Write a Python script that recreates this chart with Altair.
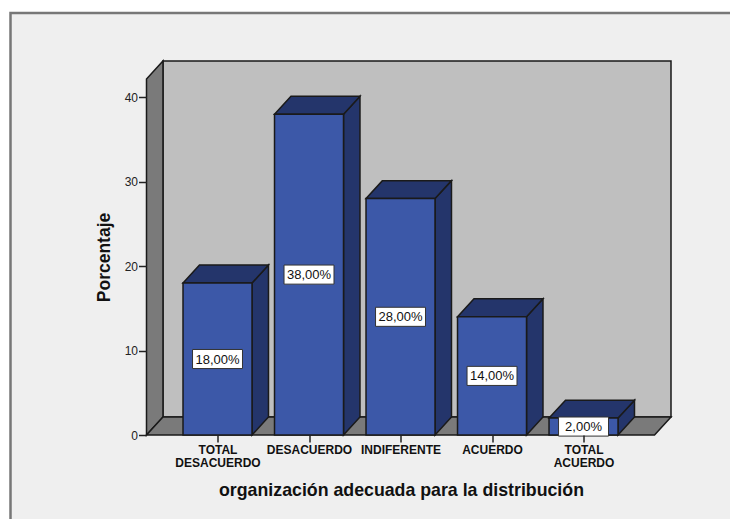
import altair as alt
import pandas as pd

categories = ["TOTAL DESACUERDO", "DESACUERDO", "INDIFERENTE", "ACUERDO", "TOTAL ACUERDO"]
values = [18, 38, 28, 14, 2]
y_ticks = [0, 10, 20, 30, 40]

# Pseudo-3D geometry in data units (category spacing = 1 on x, percent on y)
half = 0.377
dx = 0.18
dy = 2.13
xmin, xmax = -0.776, 4.956
ytop = 44.3
bar_fill, dark_fill = "#3C58A8", "#24356B"
wall = "#7A7A7A"
line = "#1A1A1A"

x_scale = alt.Scale(domain=[xmin, xmax], nice=False, zero=False)
y_scale = alt.Scale(domain=[0, ytop], nice=False, zero=True)
X = alt.X("x:Q", scale=x_scale, axis=None)
Y = alt.Y("y:Q", scale=y_scale, axis=None)

def df(rows):
    return alt.Data(values=rows)

frame = alt.Chart(df([{"a": 1}])).mark_rect(fill="#EFEFEF", stroke="#777777", strokeWidth=2.5).encode(
    x=alt.value(-136), x2=alt.value(640), y=alt.value(-48), y2=alt.value(520))

back = alt.Chart(df([{"x": xmin + dx, "x2": xmax, "y": dy, "y2": ytop}])).mark_rect(
    fill="#BFBFBF", stroke=line, strokeWidth=1.5
).encode(x=X, x2="x2:Q", y=Y, y2="y2:Q")

left_wall = alt.Chart(df([
    {"x": xmin, "y": 0, "y2": ytop - dy},
    {"x": xmin + dx, "y": dy, "y2": ytop},
])).mark_area(fill=wall, stroke=line, strokeWidth=1.5, opacity=1).encode(x=X, y=Y, y2="y2:Q")

floor = alt.Chart(df([
    {"y": 0, "x": xmin, "x2": xmax - dx},
    {"y": dy, "x": xmin + dx, "x2": xmax},
])).mark_area(fill=wall, stroke=line, strokeWidth=1.5, orient="horizontal", opacity=1).encode(
    x=X, x2="x2:Q", y=Y)

layers = [frame, back, left_wall, floor]
for i, v in enumerate(values):
    front = alt.Chart(df([{"x": i - half, "x2": i + half, "y": 0, "y2": v}])).mark_rect(
        fill=bar_fill, stroke=line, strokeWidth=1.5
    ).encode(x=X, x2="x2:Q", y=Y, y2="y2:Q")
    side = alt.Chart(df([
        {"x": i + half, "y": 0, "y2": v},
        {"x": i + half + dx, "y": dy, "y2": v + dy},
    ])).mark_area(fill=dark_fill, stroke=line, strokeWidth=1.5, opacity=1).encode(x=X, y=Y, y2="y2:Q")
    top = alt.Chart(df([
        {"y": v, "x": i - half, "x2": i + half},
        {"y": v + dy, "x": i - half + dx, "x2": i + half + dx},
    ])).mark_area(fill=dark_fill, stroke=line, strokeWidth=1.5, orient="horizontal", opacity=1).encode(
        x=X, x2="x2:Q", y=Y)
    layers += [side, top, front]

# value labels
lab = pd.DataFrame({
    "x": list(range(len(values))),
    "y": [v / 2 for v in values],
    "t": [f"{v},00%" for v in values],
})
lab["x1"] = lab["x"] - 0.273
lab["x2"] = lab["x"] + 0.273
lab["y1"] = lab["y"] - 1.13
lab["y2"] = lab["y"] + 1.13
boxes = alt.Chart(lab).mark_rect(fill="white", stroke="#333333", strokeWidth=1).encode(
    x=alt.X("x1:Q", scale=x_scale, axis=None), x2="x2:Q",
    y=alt.Y("y1:Q", scale=y_scale, axis=None), y2="y2:Q")
texts = alt.Chart(lab).mark_text(font="Liberation Sans", fontSize=13, color="#111111", dy=0.5).encode(
    x=X, y=Y, text="t:N")
layers += [boxes, texts]

# axes
label_expr = ("datum.value==0?['TOTAL','DESACUERDO']:datum.value==1?'DESACUERDO':"
              "datum.value==2?'INDIFERENTE':datum.value==3?'ACUERDO':['TOTAL','ACUERDO']")
axes = alt.Chart(df([{"x": i, "y": t} for i, t in zip(range(5), y_ticks)])).mark_point(opacity=0).encode(
    x=alt.X("x:Q", scale=x_scale, axis=alt.Axis(
        values=list(range(len(categories))), labelExpr=label_expr, domain=False, grid=False, zindex=1,
        tickColor="#222222", tickSize=7, tickWidth=1.5,
        labelFont="Liberation Sans", labelFontWeight="bold", labelFontSize=12, labelColor="#111111",
        labelPadding=2, labelLineHeight=13, labelOverlap=False,
        title="organización adecuada para la distribución", titleFont="Liberation Sans",
        titleFontSize=17.75, titleFontWeight="bold", titleColor="#111111", titlePadding=13, titleX=254.5)),
    y=alt.Y("y:Q", scale=y_scale, axis=alt.Axis(
        values=y_ticks, domain=False, grid=False, tickColor="#222222", tickSize=8, tickWidth=1.5, zindex=1,
        labelFont="Liberation Sans", labelFontSize=12, labelColor="#222222", labelPadding=1,
        title="Porcentaje", titleFont="Liberation Sans", titleFontSize=17.5, titleFontWeight="bold",
        titleColor="#111111", titlePadding=11, titleY=196)),
)
layers.append(axes)

chart = alt.layer(*layers).resolve_axis(x="independent", y="independent").properties(
    width=524.5, height=374, background="white",
    padding={"left": 138.5, "top": 53, "right": 59, "bottom": 84},
    autosize=alt.AutoSizeParams(type="none"),
).configure_view(stroke=None)

chart.save("out.html", embed_options={"renderer": "svg", "actions": False})
